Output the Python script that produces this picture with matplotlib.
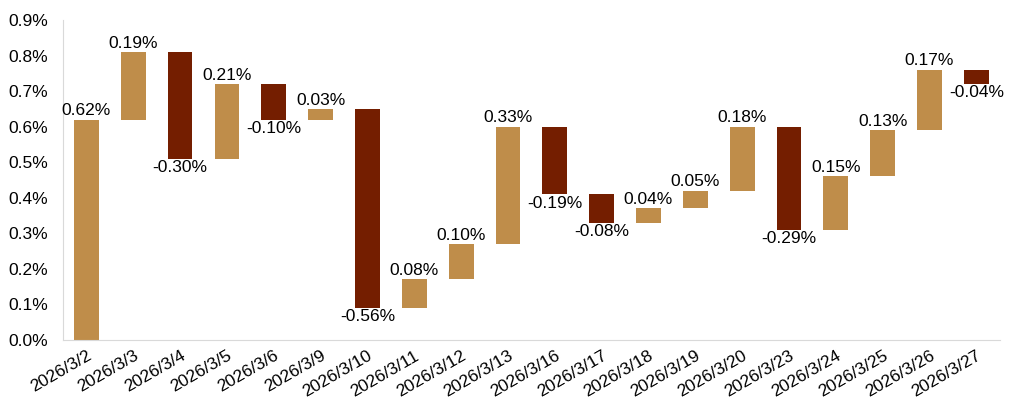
import numpy as np
import matplotlib.pyplot as plt

plt.rcParams['font.family'] = ['Liberation Sans', 'DejaVu Sans']

dates = ['2026/3/2', '2026/3/3', '2026/3/4', '2026/3/5', '2026/3/6', '2026/3/9',
         '2026/3/10', '2026/3/11', '2026/3/12', '2026/3/13', '2026/3/16', '2026/3/17',
         '2026/3/18', '2026/3/19', '2026/3/20', '2026/3/23', '2026/3/24', '2026/3/25',
         '2026/3/26', '2026/3/27']
changes = [0.62, 0.19, -0.30, 0.21, -0.10, 0.03, -0.56, 0.08, 0.10, 0.33,
           -0.19, -0.08, 0.04, 0.05, 0.18, -0.29, 0.15, 0.13, 0.17, -0.04]

gold = '#BF8D4A'
red = '#741E00'

changes = np.array(changes)
end = np.cumsum(changes)
start = end - changes
bottoms = np.minimum(start, end)
heights = np.abs(changes)
colors = [gold if c >= 0 else red for c in changes]

fig = plt.figure(figsize=(10.16, 4.18), dpi=100)
ax = fig.add_axes([0.062, 0.187, 0.922, 0.765])
x = np.arange(len(dates))
ax.bar(x, heights, bottom=bottoms, width=0.53, color=colors)

fs = 12.5
for i, c in enumerate(changes):
    txt = '%.2f%%' % c
    if c >= 0:
        ax.annotate(txt, (x[i], bottoms[i] + heights[i]), xytext=(0, 1),
                    textcoords='offset points', ha='center', va='bottom', fontsize=fs)
    else:
        ax.annotate(txt, (x[i], bottoms[i]), xytext=(0, -1),
                    textcoords='offset points', ha='center', va='top', fontsize=fs)

ax.set_ylim(0, 0.9)
ax.set_yticks(np.arange(0, 0.91, 0.1))
ax.set_yticklabels(['%.1f%%' % v for v in np.arange(0, 0.91, 0.1)], fontsize=fs)
ax.set_xlim(-0.5, len(dates) - 0.5)
ax.set_xticks(x)
ax.set_xticklabels(dates, rotation=30, ha='right', rotation_mode='anchor', fontsize=fs)
ax.tick_params(length=0)
ax.tick_params(axis='y', pad=11)
ax.tick_params(axis='x', pad=6)
for s in ['top', 'right']:
    ax.spines[s].set_visible(False)
for s in ['left', 'bottom']:
    ax.spines[s].set_color('#D9D9D9')

fig.savefig('out.png', dpi=100)
